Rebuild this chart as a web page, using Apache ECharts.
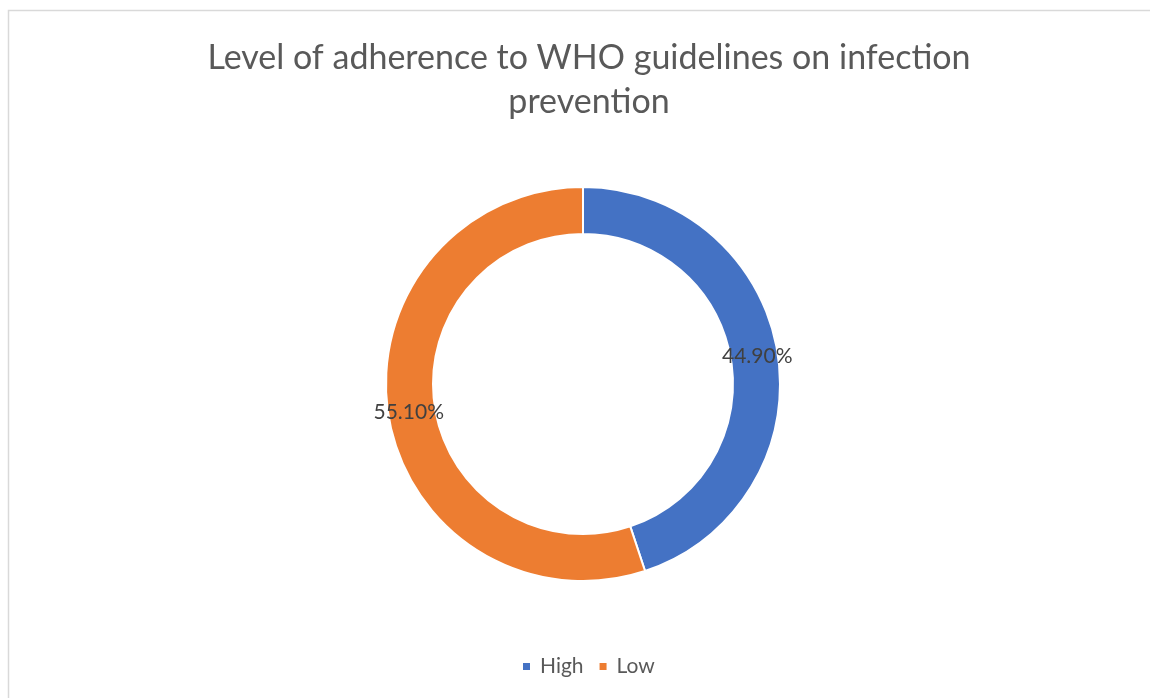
<!doctype html>
<html>
    <head>
        <meta charset="utf-8">
        <title>Level of adherence to WHO guidelines</title>
        <style>
            html, body { margin: 0; padding: 0; background: #fff; }
            #main { width: 1150px; height: 698px; }
        </style>
    </head>
    <body>
        <div id="main"></div>
        <script src="https://cdn.jsdelivr.net/npm/echarts@6/dist/echarts.min.js"></script>
        <script>
            var categories = ['High', 'Low'];
            var shares = [44.9, 55.1];
            var sliceColors = ['#4472C4', '#ED7D31'];

            var chart = echarts.init(document.getElementById('main'), null, { renderer: 'canvas' });

            var pieData = categories.map(function (name, i) {
                return {
                    name: name,
                    value: shares[i],
                    itemStyle: { color: sliceColors[i] }
                };
            });

            chart.setOption({
                backgroundColor: '#fff',
                animation: false,
                graphic: [{
                    type: 'rect',
                    shape: { x: 8.5, y: 10.5, width: 1200, height: 800 },
                    style: { fill: 'none', stroke: '#d9d9d9', lineWidth: 1.5 },
                    silent: true
                }],
                title: {
                    text: 'Level of adherence to WHO guidelines on infection\nprevention',
                    left: 584,
                    textAlign: 'center',
                    top: 31,
                    textStyle: {
                        fontFamily: 'Lato',
                        fontSize: 34,
                        fontWeight: 'normal',
                        color: '#595959',
                        lineHeight: 44
                    }
                },
                legend: {
                    bottom: 21,
                    left: 521,
                    padding: 0,
                    icon: 'rect',
                    itemWidth: 9,
                    itemHeight: 9,
                    itemGap: 14,
                    textStyle: {
                        fontFamily: 'Lato',
                        fontSize: 21,
                        color: '#595959',
                        padding: [0, 0, 0, 4]
                    },
                    data: categories
                },
                series: [{
                    type: 'pie',
                    center: [583, 384],
                    radius: [150, 197],
                    startAngle: 90,
                    clockwise: true,
                    avoidLabelOverlap: false,
                    itemStyle: {
                        borderColor: '#fff',
                        borderWidth: 2
                    },
                    label: {
                        show: true,
                        position: 'inside',
                        formatter: function (p) { return p.value.toFixed(2) + '%'; },
                        fontFamily: 'Lato',
                        fontSize: 21,
                        color: '#404040'
                    },
                    labelLine: { show: false },
                    emphasis: { disabled: true },
                    data: pieData
                }]
            });

            window.onresize = chart.resize;
        </script>
    </body>
</html>
